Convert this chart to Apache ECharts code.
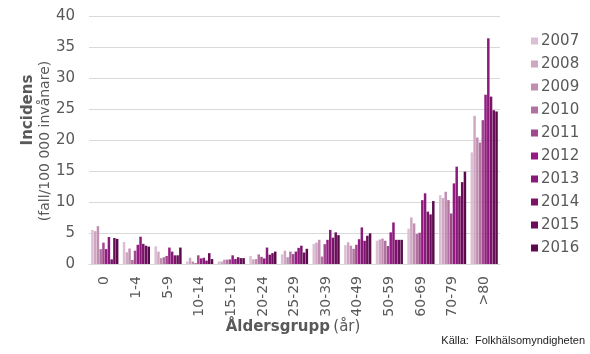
<!DOCTYPE html>
<html>
<head>
<meta charset="utf-8">
<script src="https://cdn.jsdelivr.net/npm/echarts@6/dist/echarts.min.js"></script>
<style>html,body{margin:0;padding:0;background:#fff}#c{width:590px;height:354px}</style>
</head>
<body>
<div id="c"></div>
<script>
const categories = ['0','1-4','5-9','10-14','15-19','20-24','25-29','30-39','40-49','50-59','60-69','70-79','>80'];
const years = ['2007','2008','2009','2010','2011','2012','2013','2014','2015','2016'];
const yTicks = [0, 40, 5];
const v2007 = [5.5, 3.55, 2.85, 0.4, 0.4, 1.3, 1.55, 3.25, 3.05, 3.75, 5.7, 11.1, 18.0];
const v2008 = [5.3, 1.9, 2.0, 1.0, 0.4, 0.75, 2.15, 3.45, 3.5, 3.95, 7.5, 10.65, 23.9];
const v2009 = [6.1, 2.5, 0.95, 0.4, 0.7, 0.8, 1.1, 3.9, 2.95, 4.1, 6.55, 11.65, 20.4];
const v2010 = [2.4, 0.65, 1.1, 0.15, 0.7, 1.55, 2.0, 1.2, 2.45, 3.75, 4.85, 10.3, 19.6];
const v2011 = [3.45, 2.15, 1.3, 1.4, 0.75, 1.15, 1.6, 3.2, 3.1, 2.9, 5.05, 8.15, 23.2];
const v2012 = [2.4, 3.1, 2.65, 0.9, 1.4, 0.9, 2.0, 3.9, 4.0, 5.1, 10.3, 13.0, 27.3];
const v2013 = [4.35, 4.4, 2.0, 1.0, 0.8, 2.65, 2.6, 5.5, 5.9, 6.7, 11.4, 15.7, 36.4];
const v2014 = [0.75, 3.25, 1.4, 0.55, 1.1, 1.5, 2.95, 4.25, 3.75, 3.9, 8.45, 10.95, 27.0];
const v2015 = [4.2, 2.95, 1.4, 1.75, 0.95, 1.75, 1.85, 5.1, 4.55, 3.9, 8.0, 13.2, 24.8];
const v2016 = [4.05, 2.8, 2.65, 0.8, 0.95, 2.0, 2.45, 4.65, 4.95, 3.9, 10.15, 14.9, 24.6];
const values = [v2007, v2008, v2009, v2010, v2011, v2012, v2013, v2014, v2015, v2016];
const colors = ['#DBBFD3','#D0A7C2','#C18EB2','#B0729F','#A1498F','#951B83','#8A1A7A','#7B1469','#6A0E5B','#5B0A4C'];

const chart = echarts.init(document.getElementById('c'), null, {renderer: 'canvas'});
const txt = '#595959';
const font = 'DejaVu Sans';
chart.setOption({
  animation: false,
  color: colors,
  grid: {left: 89, right: 90, top: 16, bottom: 90, containLabel: false},
  legend: {
    orient: 'vertical', left: 526, top: 28,
    icon: 'rect', itemWidth: 7, itemHeight: 7, itemGap: 7,
    textStyle: {color: txt, fontFamily: font, fontSize: 15, lineHeight: 16, padding: [0,0,0,-2]},
    data: years
  },
  xAxis: {
    type: 'category', data: categories,
    axisLine: {lineStyle: {color: '#D9D9D9'}},
    axisTick: {show: false},
    axisLabel: {rotate: 90, color: txt, fontFamily: font, fontSize: 14, margin: 12, interval: 0}
  },
  yAxis: {
    type: 'value', min: yTicks[0], max: yTicks[1], interval: yTicks[2],
    axisLine: {show: false}, axisTick: {show: false},
    splitLine: {lineStyle: {color: '#D9D9D9', width: 1}},
    axisLabel: {color: txt, fontFamily: font, fontSize: 15, margin: 14}
  },
  series: years.map((y, i) => ({
    name: y, type: 'bar', data: values[i],
    barGap: '10%', barCategoryGap: '14%'
  })),
  graphic: [
    {type: 'text', rotation: Math.PI/2, x: 28, y: 110,
     style: {text: 'Incidens', font: 'bold 15px "DejaVu Sans"', fill: txt, textAlign: 'center', textVerticalAlign: 'middle'}},
    {type: 'text', rotation: Math.PI/2, x: 45, y: 141,
     style: {text: '(fall/100 000 invånare)', font: '14px "DejaVu Sans"', fill: txt, textAlign: 'center', textVerticalAlign: 'middle'}},
    {type: 'text', x: 293, y: 327,
     style: {text: '{b|Åldersgrupp} {n|(år)}', textAlign: 'center', textVerticalAlign: 'middle',
       rich: {b: {font: 'bold 15px "DejaVu Sans"', fill: txt}, n: {font: '15px "DejaVu Sans"', fill: txt}}}},
    {type: 'text', x: 585, y: 341,
     style: {text: 'Källa:  Folkhälsomyndigheten', font: '11px "Liberation Sans"', fill: '#222', textAlign: 'right', textVerticalAlign: 'middle'}}
  ]
});
</script>
</body>
</html>
